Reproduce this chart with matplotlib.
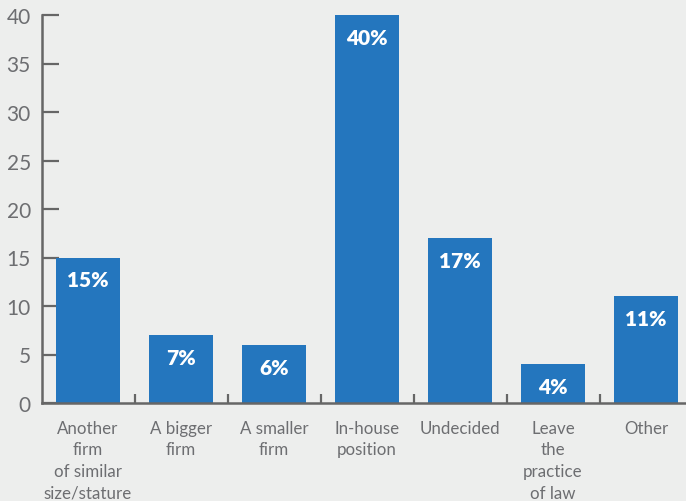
import numpy as np
import matplotlib.pyplot as plt

plt.rcParams['font.family'] = ['Lato', 'DejaVu Sans']

categories = ["Another\nfirm\nof similar\nsize/stature", "A bigger\nfirm",
              "A smaller\nfirm", "In-house\nposition", "Undecided",
              "Leave\nthe\npractice\nof law", "Other"]
values = [15, 7, 6, 40, 17, 4, 11]
yticks = [0, 5, 10, 15, 20, 25, 30, 35, 40]

bg = '#edeeed'
blue = '#2476be'
grey = '#6d6e71'
axis_grey = '#666666'

fig = plt.figure(figsize=(6.86, 5.02), dpi=100, facecolor=bg)
ax = fig.add_axes([42/686, 98/502, 1 - 42/686, 388/502])
ax.set_facecolor(bg)

x = np.arange(len(values))
bars = ax.bar(x, values, width=0.68, color=blue, zorder=2)

# percentage labels sit inside the top of each bar
for b, v in zip(bars, values):
    ax.text(b.get_x() + b.get_width()/2, v - 2.3, f"{v}%", ha='center', va='center',
            color='white', fontsize=15, fontweight='heavy')

ax.set_xlim(-0.495, 6.43)
ax.set_ylim(0, 40)
ax.set_yticks(yticks)
ax.set_xticks(x)
ax.set_xticklabels(categories, linespacing=1.44, color=grey, fontsize=12.2)
ax.set_xticks(x[:-1] + 0.5, minor=True)

for s in ['top', 'right']:
    ax.spines[s].set_visible(False)
for s in ['left', 'bottom']:
    ax.spines[s].set_color(axis_grey)
    ax.spines[s].set_linewidth(1.8)

ax.tick_params(axis='y', direction='in', length=12, width=1.6, color=axis_grey,
               labelcolor=grey, labelsize=15, pad=8)
ax.tick_params(axis='x', which='major', length=0, pad=12)
ax.tick_params(axis='x', which='minor', direction='in', length=6.5, width=1.6,
               color=axis_grey)

fig.savefig('out.png', dpi=100, facecolor=bg)
